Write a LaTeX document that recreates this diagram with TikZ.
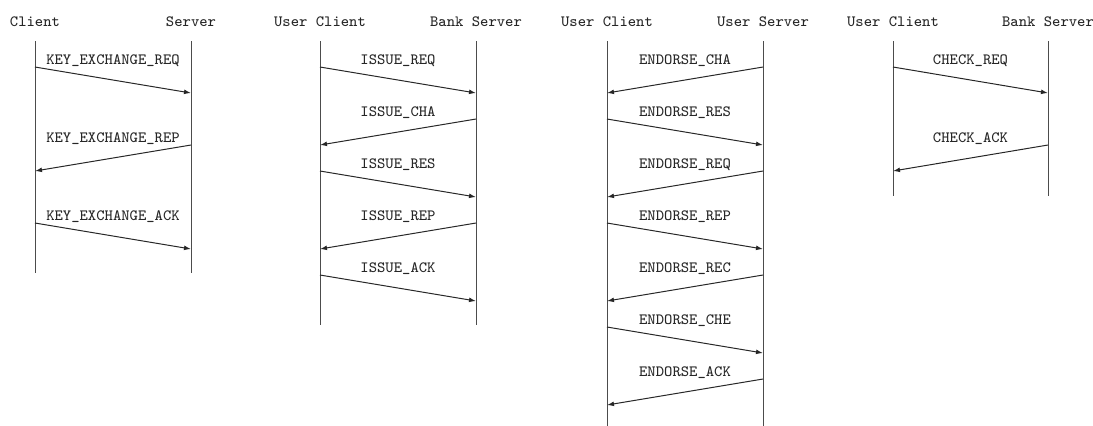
\documentclass[tikz,border=0pt]{standalone}
\usetikzlibrary{arrows.meta}
\newcommand{\msgright}[5]{% name, xl, xr, y, text
  \coordinate (#1s) at (#2,#4);
  \coordinate (#1e) at (#3,#4+26);
  \draw[msg] (#1s) -- (#1e);
  \node[lbl] (#1l) at ({(#2+#3)/2},#4-6) {#5};}
\newcommand{\msgleft}[5]{% name, xl, xr, y, text
  \coordinate (#1s) at (#3,#4);
  \coordinate (#1e) at (#2,#4+26);
  \draw[msg] (#1s) -- (#1e);
  \node[lbl] (#1l) at ({(#2+#3)/2},#4-6) {#5};}
\newcommand{\lifeline}[4]{% name, x, ytop, ybot
  \coordinate (#1t) at (#2,#3);
  \coordinate (#1b) at (#2,#4);
  \draw[life] (#1t) -- (#1b);}
\begin{document}
\begin{tikzpicture}[x=0.5pt,y=-0.5pt,
  txt/.style={font=\ttfamily\fontsize{7.85}{9}\selectfont, text=black!85, inner sep=0},
  actor/.style={txt},
  lbl/.style={txt},
  life/.style={draw=black!70, line width=0.5pt},
  msg/.style={draw=black!85, line width=0.5pt, -{Latex[length=3.5pt,width=2.4pt]}}]
\useasboundingbox (0,0) rectangle (1093,425);
% Diagram 1
\node[actor] (a1) at (35,22) {Client};
\node[actor] (b1) at (191,22) {Server};
\lifeline{la1}{35}{41}{273}
\lifeline{lb1}{191}{41}{273}
\msgright{m11}{35}{191}{67}{KEY\_EXCHANGE\_REQ}
\msgleft{m12}{35}{191}{145}{KEY\_EXCHANGE\_REP}
\msgright{m13}{35}{191}{223}{KEY\_EXCHANGE\_ACK}
% Diagram 2
\node[actor] (a2) at (320,22) {User Client};
\node[actor] (b2) at (476,22) {Bank Server};
\lifeline{la2}{320}{41}{325}
\lifeline{lb2}{476}{41}{325}
\msgright{m21}{320}{476}{67}{ISSUE\_REQ}
\msgleft{m22}{320}{476}{119}{ISSUE\_CHA}
\msgright{m23}{320}{476}{171}{ISSUE\_RES}
\msgleft{m24}{320}{476}{223}{ISSUE\_REP}
\msgright{m25}{320}{476}{275}{ISSUE\_ACK}
% Diagram 3
\node[actor] (a3) at (607,22) {User Client};
\node[actor] (b3) at (763,22) {User Server};
\lifeline{la3}{607}{41}{428}
\lifeline{lb3}{763}{41}{428}
\msgleft{m31}{607}{763}{67}{ENDORSE\_CHA}
\msgright{m32}{607}{763}{119}{ENDORSE\_RES}
\msgleft{m33}{607}{763}{171}{ENDORSE\_REQ}
\msgright{m34}{607}{763}{223}{ENDORSE\_REP}
\msgleft{m35}{607}{763}{275}{ENDORSE\_REC}
\msgright{m36}{607}{763}{327}{ENDORSE\_CHE}
\msgleft{m37}{607}{763}{379}{ENDORSE\_ACK}
% Diagram 4
\node[actor] (a4) at (893,22) {User Client};
\node[actor] (b4) at (1048,22) {Bank Server};
\lifeline{la4}{893}{41}{196}
\lifeline{lb4}{1048}{41}{196}
\msgright{m41}{893}{1048}{67}{CHECK\_REQ}
\msgleft{m42}{893}{1048}{145}{CHECK\_ACK}
\end{tikzpicture}
\end{document}
